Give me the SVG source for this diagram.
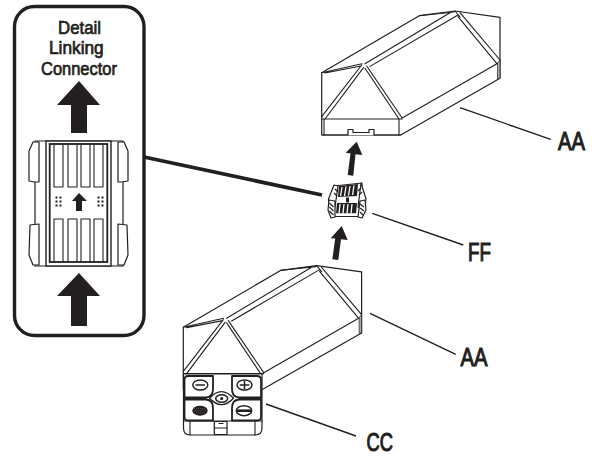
<svg xmlns="http://www.w3.org/2000/svg" xmlns:xlink="http://www.w3.org/1999/xlink" width="600" height="456" viewBox="0 0 600 456">
<style>
.l{fill:none;stroke:#231f20;stroke-width:1.1;stroke-linejoin:round;stroke-linecap:round}
.m{fill:none;stroke:#231f20;stroke-width:1.5;stroke-linejoin:round}
.w{fill:#fff;stroke:#231f20;stroke-width:1.2;stroke-linejoin:round}
.k{fill:#231f20}
.lead{fill:none;stroke:#231f20;stroke-width:1.4}
text{font-family:"Liberation Sans",Arial,sans-serif;fill:#231f20;stroke:#231f20;stroke-width:.7}
.sm{font-size:18px}
.lg{font-size:25px;stroke-width:1.1}
</style>
<defs>
<g id="box">
<path class="w" d="M321.700 72.700L419.300 15.700L455 11L500 17.300V78.300L400.700 135H321.700Z"/>
<path class="l" d="M321.700 72.700L362 63.700M325 73L361 66M361.700 65L321.700 116.700M363.500 67.700L325 119M366.700 66L402.300 118.300M365 68.300L399 119M322 119H402M365 63.700L450 12.700M370 66.400L458 15M458 16.700L496.700 63.300M460 12.700L500 60M401.700 118.300L498.300 63M419.300 15.700L454 12M455 11L460 17"/>
<path d="M497.500 63V79L500 78V60Z" fill="#aaa" stroke="#231f20" stroke-width=".7"/>
</g>
</defs>

<g id="detail-panel">
<rect x="14.500" y="6.500" width="129.500" height="329" rx="20" ry="20" fill="#fff" stroke="#231f20" stroke-width="3.400"/>
<text class="sm" transform="translate(58 34) scale(.935 1)">Detail</text>
<text class="sm" transform="translate(49 54) scale(.96 1)">Linking</text>
<text class="sm" transform="translate(41 75) scale(.915 1)">Connector</text>
<path class="k" d="M79 81L100 105H87V133H71V105H57Z"/>
<path class="k" d="M79 273L100 296H87V326H71V296H57Z"/>
<path class="w" d="M35 141H123V266H35Z"/>
<path class="w" d="M39 142H33L29 151V181L35 182H39Z"/>
<path class="w" d="M39 224L30 225L29 255L33 265H39Z"/>
<path class="w" d="M118 142H124L128 151V181L122 182H118Z"/>
<path class="w" d="M118 224L127 225L128 255L124 265H118Z"/>
<rect x="46" y="141" width="65" height="125" fill="#fff" stroke="#231f20" stroke-width="1.400"/>
<rect x="49.700" y="144" width="57.600" height="118" fill="none" stroke="#231f20" stroke-width="1.800"/>
<path class="l" d="M54 145V187H63V145M68 145V187H77V145M81 145V187H90V145M94 145V187H103V145M54 262V219H63V262M68 262V219H77V262M81 262V219H90V262M94 262V219H103V262"/>
<path class="k" d="M79 193L87 201H82V211H76V201H72Z"/>
<path class="k" d="M55.500 196.500h2v2h-2zM59.500 196.500h2v2h-2zM55.500 200.500h2v2h-2zM59.500 200.500h2v2h-2zM55.500 204.500h2v2h-2zM59.500 204.500h2v2h-2zM97.500 196.500h2v2h-2zM101.500 196.500h2v2h-2zM97.500 200.500h2v2h-2zM101.500 200.500h2v2h-2zM97.500 204.500h2v2h-2zM101.500 204.500h2v2h-2z"/>
</g>

<g id="connectors">
<path d="M144 157L322 195" fill="none" stroke="#231f20" stroke-width="3.800"/>
<path class="lead" d="M460 107.700L550.700 139.300M372.300 213.300L463.300 245M370 313.300L455.700 354.300M266 404L356 436"/>
<path class="k" d="M356.700 141.700L362.300 155L355.500 154.200L353.300 175.700L347.700 175L350.500 153.500L345.700 152.700Z"/>
<path class="k" d="M341.700 226L347.700 240L341 239.300L338.300 260L332.300 259.300L335.200 238.600L330.700 238.300Z"/>
</g>

<g id="box-top">
<use xlink:href="#box"/>
<path class="l" d="M324 119V135M399 119V135"/>
<path class="w" d="M322 135H348V129.500H353V132.500H369V129.500H374V135H401"/>
</g>

<g id="link-connector">
<path class="w" d="M334 186L362 183L360 216.500L331 216.500Z"/>
<path class="w" d="M334 185L328.500 199L329.500 211L335 207L338 186Z"/>
<path class="w" d="M361 183L366 199L364 212L358 207Z"/>
<path class="w" d="M329 200L328 210L331 218L335 217L335 201Z"/>
<path class="w" d="M360 201L365 200L366 210L362 218L358 217Z"/>
<path fill="#231f20" d="M339 186L358 184L357 196L338 197Z"/>
<path fill="#231f20" d="M337 203H357L356 214H336Z"/>
<path d="M342 187L340.500 196M346 186.500L344.500 196M350 186L348.500 195.500M354 185.500L352.500 195M340 204L339 213.500M344 204L343 213.500M348 204L347 213.500M352 204L351 213.500" stroke="#fff" stroke-width="1.300" fill="none"/>
<rect x="339" y="197.500" width="16" height="5" fill="#fff"/>
<path class="k" d="M346 197.500h3v5h-3z"/>
<path d="M336 214.500H356" stroke="#fff" stroke-width="2.500"/>
<path d="M329.500 203l4 4M329.500 207l4 4M329.500 211l4 4M335 189l3 3M334 193l3 3M361 188l-3 3M362 192l-3 3M360 204l4 3M360 208l4 3M360 212l3 3" stroke="#231f20" stroke-width="1.200"/>
</g>

<g id="box-bottom">
<use xlink:href="#box" transform="translate(-138.400 254.600)"/>
<path class="w" d="M183.500 374H262V428Q262 435 255 435H190Q183.500 435 183.500 428Z"/>
<path class="l" d="M190 421V435M255 421V435M183.500 421H262"/>
<path class="w" d="M214.300 421.500H227V434.500H214.300Z"/>
<path class="l" d="M214.300 428H227M219 423.500H223"/>
<path d="M213 376H188Q184.500 376 184.500 380V397.500H206Q213 397 213 389ZM232 376H257Q261 376 261 380V397.500H239Q232 397 232 389ZM184.500 399.500V417Q184.500 420.500 188 420.500H213V408Q213 400 206 399.500ZM261 399.500V417Q261 420.500 257 420.500H232V408Q232 400 239 399.500Z" fill="#fff" stroke="#231f20" stroke-width="1.800" stroke-linejoin="round"/>
<path d="M209.500 398.300Q221.500 385 233.500 398.300Q221.500 411 209.500 398.300Z" fill="#fff" stroke="#231f20" stroke-width="1.300"/>
<ellipse cx="221.700" cy="398.500" rx="6" ry="3.800" class="m"/>
<circle cx="221.700" cy="398.500" r="1.600" class="k"/>
<ellipse cx="200.300" cy="385" rx="7.500" ry="5" class="m"/>
<path class="m" d="M195.500 385H205"/>
<ellipse cx="244.500" cy="385" rx="7.500" ry="5" class="m"/>
<path class="m" d="M239.700 385H249.300M244.500 381V389"/>
<ellipse cx="200" cy="410.700" rx="7.700" ry="5" fill="#231f20"/>
<path d="M194 408.500H206M193.500 410.700H206.500M194 413H206" stroke="#777" stroke-width=".6" stroke-dasharray="1 1"/>
<ellipse cx="244" cy="410.700" rx="7.700" ry="5" class="m"/>
<path d="M236.500 410.700H251.500" stroke="#231f20" stroke-width="2.600"/>
</g>

<g id="labels">
<text class="lg" transform="translate(558 150) scale(.81 1)">AA</text>
<text class="lg" transform="translate(468 260.500) scale(.75 1)">FF</text>
<text class="lg" transform="translate(460.500 366) scale(.81 1)">AA</text>
<text class="lg" transform="translate(366.500 451) scale(.73 1)">CC</text>
</g>
</svg>
